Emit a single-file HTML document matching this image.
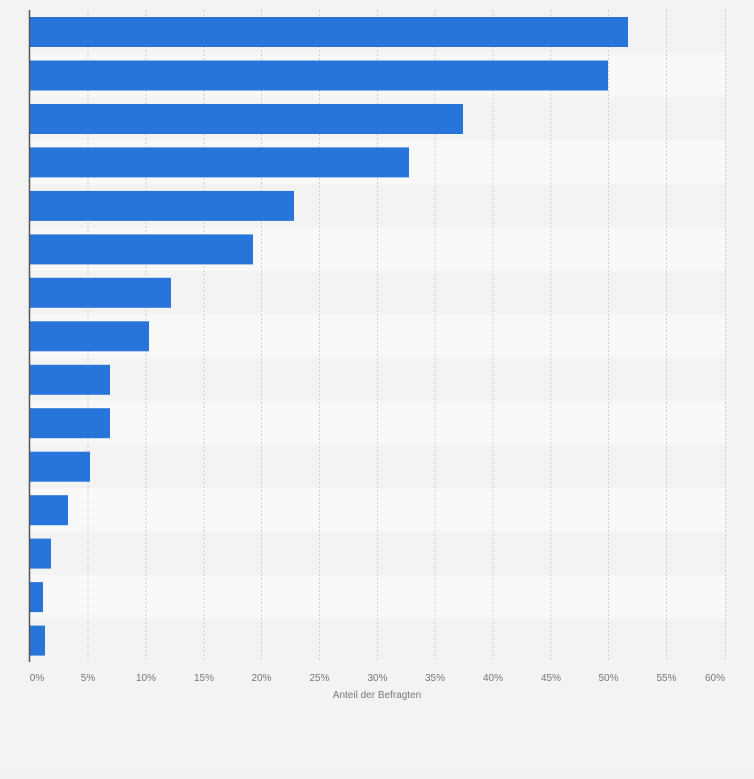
<!DOCTYPE html>
<html><head><meta charset="utf-8"><style>
html,body{margin:0;padding:0;background:#f3f3f3;width:754px;height:779px;overflow:hidden}
</style></head><body>
<svg width="754" height="779" xmlns="http://www.w3.org/2000/svg" style="display:block">
<rect width="754" height="779" fill="#f3f3f3"/>
<rect y="770" width="754" height="9" fill="#f1f1f1"/>
<g id="stripes"></g>
<g fill="#f8f8f8">
<rect x="30" y="53.5" width="695" height="43.5"/>
<rect x="30" y="140.4" width="695" height="43.5"/>
<rect x="30" y="227.4" width="695" height="43.5"/>
<rect x="30" y="314.3" width="695" height="43.5"/>
<rect x="30" y="401.2" width="695" height="43.5"/>
<rect x="30" y="488.2" width="695" height="43.5"/>
<rect x="30" y="575.1" width="695" height="43.5"/>
</g>
<g stroke="#cfcfcf" stroke-width="1" stroke-dasharray="2,2">
<line x1="88" y1="10" x2="88" y2="662"/>
<line x1="146" y1="10" x2="146" y2="662"/>
<line x1="204" y1="10" x2="204" y2="662"/>
<line x1="261.5" y1="10" x2="261.5" y2="662"/>
<line x1="319.5" y1="10" x2="319.5" y2="662"/>
<line x1="377.5" y1="10" x2="377.5" y2="662"/>
<line x1="435" y1="10" x2="435" y2="662"/>
<line x1="493" y1="10" x2="493" y2="662"/>
<line x1="551" y1="10" x2="551" y2="662"/>
<line x1="608.5" y1="10" x2="608.5" y2="662"/>
<line x1="666.5" y1="10" x2="666.5" y2="662"/>
<line x1="725.5" y1="10" x2="725.5" y2="662"/>
</g>
<g fill="#2775db">
<rect x="30" y="17" width="598" height="30"/>
<rect x="30" y="60.5" width="578" height="30"/>
<rect x="30" y="104" width="433" height="30"/>
<rect x="30" y="147.4" width="379" height="30"/>
<rect x="30" y="190.9" width="264" height="30"/>
<rect x="30" y="234.4" width="223" height="30"/>
<rect x="30" y="277.8" width="141" height="30"/>
<rect x="30" y="321.3" width="119" height="30"/>
<rect x="30" y="364.8" width="80" height="30"/>
<rect x="30" y="408.2" width="80" height="30"/>
<rect x="30" y="451.7" width="60" height="30"/>
<rect x="30" y="495.2" width="38" height="30"/>
<rect x="30" y="538.6" width="21" height="30"/>
<rect x="30" y="582.1" width="13" height="30"/>
<rect x="30" y="625.6" width="15" height="30"/>
</g>
<line x1="29.5" y1="10" x2="29.5" y2="662" stroke="#555" stroke-width="1.5"/>
<g font-family="Liberation Sans, sans-serif" font-size="10" fill="#777" text-anchor="middle">
<text x="37" y="681">0%</text>
<text x="88" y="681">5%</text>
<text x="146" y="681">10%</text>
<text x="204" y="681">15%</text>
<text x="261.5" y="681">20%</text>
<text x="319.5" y="681">25%</text>
<text x="377.5" y="681">30%</text>
<text x="435" y="681">35%</text>
<text x="493" y="681">40%</text>
<text x="551" y="681">45%</text>
<text x="608.5" y="681">50%</text>
<text x="666.5" y="681">55%</text>
<text x="715" y="681">60%</text>
<text x="377" y="698">Anteil der Befragten</text>
</g>
</svg>
</body></html>
